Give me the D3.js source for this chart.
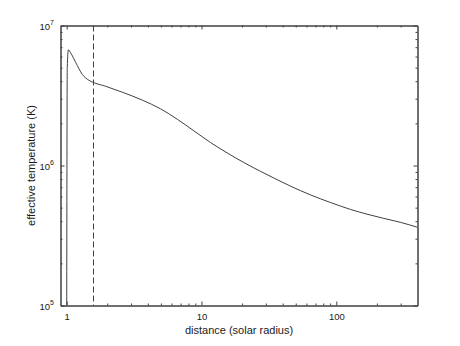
<!DOCTYPE html>
<html>
<head>
<meta charset="utf-8">
<script src="https://cdn.jsdelivr.net/npm/d3@7"></script>
<style>
  body { margin: 0; background: #fff; }
  svg { display: block; font-family: "Liberation Sans", Arial, sans-serif; }
</style>
</head>
<body>
<div id="chart"></div>
<script>
// distance from sun centre (solar radii) and effective temperature (K)
const distance = [1.0, 1.01, 1.03, 1.07, 1.166, 1.307, 1.463, 1.557, 1.945, 2.584, 3.64, 4.97, 6.61, 8.77,
    11.66, 15.5, 20.6, 27.3, 36.3, 45.6, 64.2, 90.1, 127, 169, 225, 298, 400];
const temperature = [5e4, 5.0e6, 6.7e6, 6.38e6, 5.45e6, 4.47e6, 4.06e6, 3.94e6, 3.68e6, 3.34e6, 2.93e6, 2.54e6,
    2.14e6, 1.77e6, 1.46e6, 1.23e6, 1.05e6, 9.1e5, 7.93e5, 7.13e5, 6.17e5, 5.45e5, 4.86e5, 4.49e5, 4.19e5, 3.93e5, 3.62e5];
// dashed marker position
const boundary = [1.57];

const xMajor = [1, 10, 100];
const xMinor = [2, 3, 4, 5, 6, 7, 8, 9, 20, 30, 40, 50, 60, 70, 80, 90, 200, 300];
const yMajor = [1e5, 1e6, 1e7];
const yMinor = [2e5, 3e5, 4e5, 5e5, 6e5, 7e5, 8e5, 9e5, 2e6, 3e6, 4e6, 5e6, 6e6, 7e6, 8e6, 9e6];
const yExponents = [5, 6, 7];

const WIDTH = 460, HEIGHT = 346;
const LEFT = 60.5, RIGHT = 417.5, TOP = 25.5, BOTTOM = 305.5;
const INK = "#404040";

const svg = d3.select("#chart").append("svg")
    .attr("width", WIDTH)
    .attr("height", HEIGHT);

const x = d3.scaleLog().domain([0.9, 400]).range([LEFT, RIGHT]);
const y = d3.scaleLog().domain([1e5, 1e7]).range([BOTTOM, TOP]);

svg.append("clipPath").attr("id", "plot-clip")
    .append("rect")
    .attr("x", LEFT).attr("y", TOP)
    .attr("width", RIGHT - LEFT).attr("height", BOTTOM - TOP);

// curve
const points = distance.map((d, i) => [d, temperature[i]]);
const line = d3.line()
    .x(d => x(d[0]))
    .y(d => y(d[1]))
    .curve(d3.curveMonotoneX);

svg.append("path")
    .datum(points)
    .attr("clip-path", "url(#plot-clip)")
    .attr("fill", "none")
    .attr("stroke", INK)
    .attr("stroke-width", 1)
    .attr("d", line);

// dashed line
svg.selectAll("line.boundary")
    .data(boundary)
    .join("line")
    .attr("class", "boundary")
    .attr("x1", d => Math.round(x(d)) + 0.5)
    .attr("x2", d => Math.round(x(d)) + 0.5)
    .attr("y1", TOP)
    .attr("y2", BOTTOM)
    .attr("stroke", INK)
    .attr("stroke-width", 1)
    .attr("stroke-dasharray", "6,3");

// axes, ticks point inward on all four sides
function styleAxis(g) {
    g.select(".domain").attr("stroke", INK);
    g.selectAll(".tick line").attr("stroke", INK);
    g.selectAll(".tick text").attr("fill", "#1a1a1a");
}

svg.append("g")
    .attr("transform", `translate(0,${BOTTOM})`)
    .call(d3.axisBottom(x).tickValues(xMajor).tickSize(-4).tickSizeOuter(0).tickPadding(8)
        .tickFormat(d3.format("d")))
    .call(styleAxis)
    .call(g => g.selectAll("text").attr("font-size", 9.5).attr("font-family", null));
svg.append("g")
    .attr("transform", `translate(0,${BOTTOM})`)
    .call(d3.axisBottom(x).tickValues(xMinor).tickSize(-2).tickSizeOuter(0).tickFormat(""))
    .call(styleAxis);
svg.append("g")
    .attr("transform", `translate(0,${TOP})`)
    .call(d3.axisTop(x).tickValues(xMajor).tickSize(-4).tickSizeOuter(0).tickFormat(""))
    .call(styleAxis);
svg.append("g")
    .attr("transform", `translate(0,${TOP})`)
    .call(d3.axisTop(x).tickValues(xMinor).tickSize(-2).tickSizeOuter(0).tickFormat(""))
    .call(styleAxis);

const yLeft = svg.append("g")
    .attr("transform", `translate(${LEFT},0)`)
    .call(d3.axisLeft(y).tickValues(yMajor).tickSize(-4).tickSizeOuter(0).tickFormat(""))
    .call(styleAxis);
svg.append("g")
    .attr("transform", `translate(${LEFT},0)`)
    .call(d3.axisLeft(y).tickValues(yMinor).tickSize(-2).tickSizeOuter(0).tickFormat(""))
    .call(styleAxis);
svg.append("g")
    .attr("transform", `translate(${RIGHT},0)`)
    .call(d3.axisRight(y).tickValues(yMajor).tickSize(-4).tickSizeOuter(0).tickFormat(""))
    .call(styleAxis);
svg.append("g")
    .attr("transform", `translate(${RIGHT},0)`)
    .call(d3.axisRight(y).tickValues(yMinor).tickSize(-2).tickSizeOuter(0).tickFormat(""))
    .call(styleAxis);

// y tick labels as 10 with superscript exponent
yLeft.selectAll(".tick")
    .append("text")
    .attr("x", -6.5)
    .attr("y", 3.5)
    .attr("text-anchor", "end")
    .attr("fill", "#1a1a1a")
    .attr("font-size", 9.5)
    .each(function(d, i) {
        const t = d3.select(this);
        t.append("tspan").text("10");
        t.append("tspan").attr("dy", -5).attr("font-size", 7).text(yExponents[i]);
    });

// axis titles
svg.append("text")
    .attr("x", (LEFT + RIGHT) / 2)
    .attr("y", 334)
    .attr("text-anchor", "middle")
    .attr("font-size", 11)
    .attr("fill", "#1a1a1a")
    .text("distance (solar radius)");

svg.append("text")
    .attr("transform", `translate(35,${(TOP + BOTTOM) / 2}) rotate(-90)`)
    .attr("text-anchor", "middle")
    .attr("font-size", 11)
    .attr("fill", "#1a1a1a")
    .text("effective temperature (K)");
</script>
</body>
</html>
